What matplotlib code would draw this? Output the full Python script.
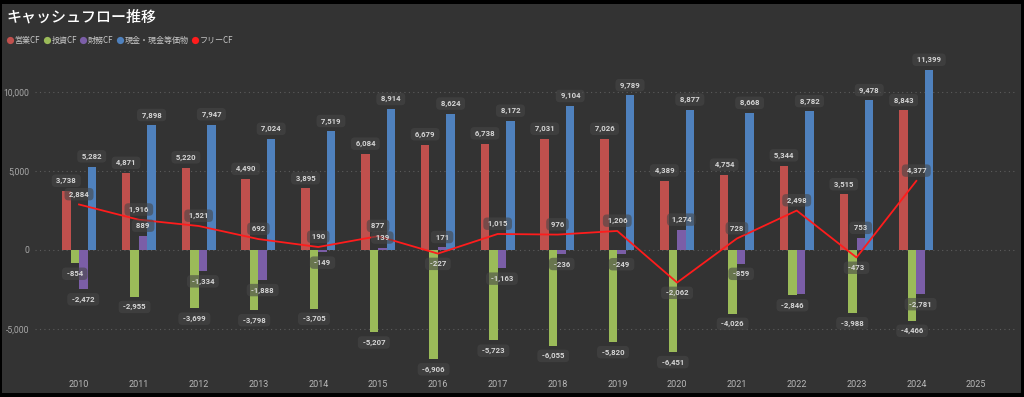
import numpy as np
import matplotlib
matplotlib.use("Agg")
from matplotlib import pyplot as plt
from matplotlib.lines import Line2D
from matplotlib.patches import Rectangle

plt.rcParams['font.family'] = ['Noto Sans CJK JP', 'DejaVu Sans']

# data (units: as shown)
years = ["2010", "2011", "2012", "2013", "2014", "2015", "2016", "2017",
         "2018", "2019", "2020", "2021", "2022", "2023", "2024", "2025"]
operating_cf = [3738, 4871, 5220, 4490, 3895, 6084, 6679, 6738,
                7031, 7026, 4389, 4754, 5344, 3515, 8843, np.nan]
investing_cf = [-854, -2955, -3699, -3798, -3705, -5207, -6906, -5723,
                -6055, -5820, -6451, -4026, -2846, -3988, -4466, np.nan]
financing_cf = [-2472, 889, -1334, -1888, -149, 139, 171, -1163,
                -236, -249, 1274, -859, -2800, 753, -2781, np.nan]
cash = [5282, 7898, 7947, 7024, 7519, 8914, 8624, 8172,
        9104, 9789, 8877, 8668, 8782, 9478, 11399, np.nan]
free_cf = [2884, 1916, 1521, 692, 190, 877, -227, 1015,
           976, 1206, -2062, 728, 2498, -473, 4377, np.nan]

series_names = ["営業CF", "投資CF", "財務CF", "現金・現金等価物"]
series_colors = ["#c0504d", "#9bbb59", "#7b5ea7", "#4f81bd"]
free_color = "#ff1c1c"
bg = "#333333"
label_color = "#d6d6d6"

# labels that the original hides because they overlap
hidden = {("財務CF", "2022")}

fig = plt.figure(figsize=(10.24, 3.97), dpi=100, facecolor="black")
fig.patches.append(Rectangle((2 / 1024, 4 / 397), 1019 / 1024, 389 / 397,
                             transform=fig.transFigure, facecolor=bg,
                             edgecolor="none", zorder=-10))

ax = fig.add_axes([35 / 1024, 27 / 397, 980 / 1024, 315 / 397])
ax.set_facecolor(bg)
ax.patch.set_alpha(0)

x = np.arange(len(years))
bw = 0.142
offsets = np.array([-1.5, -0.5, 0.5, 1.5]) * bw
all_series = [operating_cf, investing_cf, financing_cf, cash]

box = dict(boxstyle="round,pad=0.35,rounding_size=0.5", facecolor="#474747",
           edgecolor="none", alpha=0.6)


def put_label(xv, yv):
    off = 7.4 if yv >= 0 else -7.4
    ax.annotate(f" {yv:,.0f} ", (xv, yv), xytext=(0, off), textcoords="offset points",
                ha="center", va="center", fontsize=5.6, fontweight="bold",
                color=label_color, family=["Roboto", "DejaVu Sans"],
                bbox=box, zorder=6)


for name, vals, col, off in zip(series_names, all_series, series_colors, offsets):
    ax.bar(x + off, vals, width=bw, color=col, zorder=2)

ax.plot(x, free_cf, color=free_color, lw=1.3, zorder=3)

for name, vals, off in zip(series_names, all_series, offsets):
    for xi, v, yr in zip(x, vals, years):
        if np.isnan(v) or (name, yr) in hidden:
            continue
        put_label(xi + off, v)
for xi, v in zip(x, free_cf):
    if not np.isnan(v):
        put_label(xi, v)

ax.set_xlim(-0.736, 15.65)
ax.set_ylim(-7600, 12350)
ax.set_yticks([-5000, 0, 5000, 10000])
ax.set_yticklabels([f"{t:,}" for t in [-5000, 0, 5000, 10000]],
                   family=["Roboto", "DejaVu Sans"])
ax.set_xticks(x)
ax.set_xticklabels(years, family=["Roboto", "DejaVu Sans"])
ax.tick_params(axis="y", length=0, labelsize=6.2, colors="#a8a8a8", pad=4)
ax.tick_params(axis="x", length=0, labelsize=6.5, colors="#b8b8b8", pad=7)
ax.grid(axis="y", color="#5c5c5c", linestyle=(0, (1, 3)), lw=0.8, zorder=1)
for s in ax.spines.values():
    s.set_visible(False)

fig.text(6 / 1024, 1 - 17 / 397, "キャッシュフロー推移", color="white",
         fontsize=10.8, fontweight="medium", va="center", ha="left")

handles = [Line2D([], [], marker="o", ls="none", markersize=5.2,
                  markerfacecolor=c, markeredgecolor="none") for c in series_colors]
handles.append(Line2D([], [], marker="o", ls="none", markersize=5.2,
                      markerfacecolor=free_color, markeredgecolor="none"))
leg = fig.legend(handles, series_names + ["フリーCF"], loc="center left",
                 bbox_to_anchor=(3 / 1024, 1 - 40 / 397), ncol=5, frameon=False,
                 fontsize=5.8, handletextpad=0.15, columnspacing=0.35,
                 handlelength=0.9, borderaxespad=0)
for t in leg.get_texts():
    t.set_color("#c8c8c8")

fig.savefig("out.png", dpi=100, facecolor="black")
